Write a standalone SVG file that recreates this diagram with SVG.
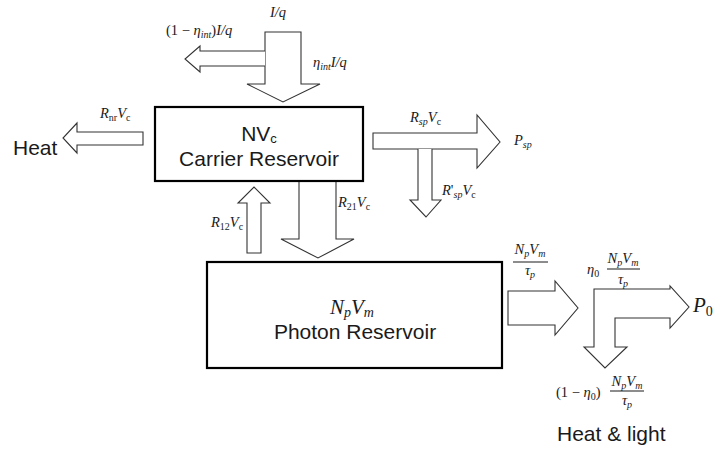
<svg xmlns="http://www.w3.org/2000/svg" width="721" height="449" viewBox="0 0 721 449">
<style>
.box{fill:#fff;stroke:#000;stroke-width:2.2}
.arr{fill:#fff;stroke:#333;stroke-width:1.1;stroke-linejoin:miter}
.sans{font-family:"Liberation Sans",Arial,sans-serif;font-size:21px;fill:#1a1a1a}
.m{font-family:"Liberation Serif","DejaVu Serif",serif;font-size:14.5px;font-style:italic;fill:#1a1a1a}
.big{font-size:21px}
.r{font-style:normal}
.s{font-size:10px}
.bs{font-size:14px}
.fl{stroke:#1a1a1a;stroke-width:1.2}
</style>
<rect width="721" height="449" fill="#fff"/>
<g id="connectors">
  <polygon class="arr" points="265,32 301,32 301,84 320,84 283,102 247,84 265,84"/>
  <polyline class="arr" points="265,51 200,51 200,46 185,59 200,72 200,66 265,66"/>
  <polygon class="arr" points="143,132 77,132 77,123 63,138 77,153 77,145 143,145"/>
  <polygon class="arr" points="373,133 477,133 477,115 500,142 477,168 477,149 373,149"/>
  <polyline class="arr" points="418,149 418,200 410,200 426,217 441,200 432,200 432,149"/>
  <polygon class="arr" points="247,253 247,203 238,203 254,187 270,203 261,203 261,253"/>
  <polyline class="arr" points="299,182 299,239 281,239 318,258 354,239 336,239 336,182"/>
  <polygon class="arr" points="508,291 555,291 555,281 578,308 555,335 555,325 508,325"/>
  <polygon class="arr" points="594,289 670,289 670,286 689,307 670,328 670,318 615,318 615,347 627,347 605,368 584,347 594,347"/>
</g>
<g id="carrier">
  <rect class="box" x="155" y="107" width="208" height="74"/>
  <text class="sans" x="259" y="141" text-anchor="middle">NV<tspan font-size="13" dy="2">c</tspan></text>
  <text class="sans" x="259" y="166" text-anchor="middle">Carrier Reservoir</text>
</g>
<g id="photon">
  <rect class="box" x="207" y="262" width="295" height="106"/>
  <text class="m big" x="352" y="314" text-anchor="middle">N<tspan class="bs" dy="3">p</tspan><tspan dy="-3">V</tspan><tspan class="bs" dy="3">m</tspan></text>
  <text class="sans" x="355" y="339" text-anchor="middle">Photon Reservoir</text>
</g>
<g id="labels">
  <text class="m" x="270" y="17">I/q</text>
  <text class="m" x="166" y="35"><tspan class="r">(1 − </tspan>η<tspan class="s" dy="3">int</tspan><tspan class="r" dy="-3">)</tspan>I/q</text>
  <text class="m" x="313" y="67">η<tspan class="s" dy="3">int</tspan><tspan dy="-3">I/q</tspan></text>
  <text class="sans" x="13" y="155">Heat</text>
  <text class="m" x="100" y="118">R<tspan class="s r" dy="3">nr</tspan><tspan dy="-3">V</tspan><tspan class="s r" dy="3">c</tspan></text>
  <text class="m" x="410" y="122">R<tspan class="s" dy="3">sp</tspan><tspan dy="-3">V</tspan><tspan class="s r" dy="3">c</tspan></text>
  <text class="m" x="514" y="145">P<tspan class="s" dy="3">sp</tspan></text>
  <text class="m" x="442" y="195">R<tspan class="r">'</tspan><tspan class="s" dy="3">sp</tspan><tspan dy="-3">V</tspan><tspan class="s r" dy="3">c</tspan></text>
  <text class="m" x="211" y="227">R<tspan class="s r" dy="3">12</tspan><tspan dy="-3">V</tspan><tspan class="s r" dy="3">c</tspan></text>
  <text class="m" x="338" y="207">R<tspan class="s r" dy="3">21</tspan><tspan dy="-3">V</tspan><tspan class="s r" dy="3">c</tspan></text>
  <text class="m" x="530" y="254" text-anchor="middle">N<tspan class="s" dy="3">p</tspan><tspan dy="-3">V</tspan><tspan class="s" dy="3">m</tspan></text>
  <line class="fl" x1="513" y1="262" x2="548" y2="262"/>
  <text class="m" x="530" y="275" text-anchor="middle">τ<tspan class="s" dy="3">p</tspan></text>
  <text class="m" x="587" y="274">η<tspan class="s r" dy="3">0</tspan></text>
  <text class="m" x="623" y="263" text-anchor="middle">N<tspan class="s" dy="3">p</tspan><tspan dy="-3">V</tspan><tspan class="s" dy="3">m</tspan></text>
  <line class="fl" x1="607" y1="269" x2="640" y2="269"/>
  <text class="m" x="623" y="284" text-anchor="middle">τ<tspan class="s" dy="3">p</tspan></text>
  <text class="m big" x="693" y="312">P<tspan class="bs r" dy="4">0</tspan></text>
  <text class="m" x="556" y="397"><tspan class="r">(1 − </tspan>η<tspan class="s r" dy="3">0</tspan><tspan class="r" dy="-3">)</tspan></text>
  <text class="m" x="627" y="386" text-anchor="middle">N<tspan class="s" dy="3">p</tspan><tspan dy="-3">V</tspan><tspan class="s" dy="3">m</tspan></text>
  <line class="fl" x1="610" y1="391" x2="644" y2="391"/>
  <text class="m" x="627" y="405" text-anchor="middle">τ<tspan class="s" dy="3">p</tspan></text>
  <text class="sans" x="557" y="441">Heat &amp; light</text>
</g>
</svg>
